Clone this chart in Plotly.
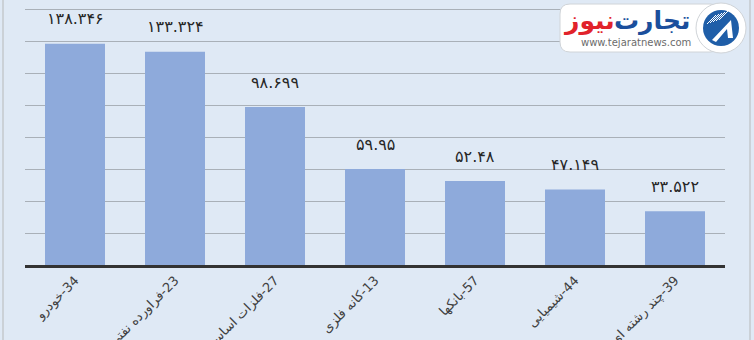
import plotly.graph_objects as go

categories = ["34-خودرو", "23-فراورده نفتی", "27-فلزات اساسی", "13-کانه فلزی",
              "57-بانکها", "44-شیمیایی", "39-چند رشته ای"]
values = [138.346, 133.324, 98.699, 59.95, 52.48, 47.149, 33.522]

FA_DIGITS = str.maketrans("0123456789", "۰۱۲۳۴۵۶۷۸۹")


def fa(v):
    return str(v).translate(FA_DIGITS)


def rtl(s):
    return "\u202b" + s + "\u202c"


W, H = 754, 340
ML, MR, MT, MB = 25, 29, 0, 75
PW, PH = W - ML - MR, H - MT - MB


def px(x):
    return (x - ML) / PW


def py(y):
    return (H - MB - y) / PH


BG = "#dfe9f5"
BAR = "#8eaadb"

fig = go.Figure()
fig.add_trace(go.Bar(
    x=[rtl(c) for c in categories], y=values,
    marker=dict(color=BAR, line=dict(width=0)),
    hoverinfo="skip",
))

annotations = []
for c, v in zip(categories, values):
    annotations.append(dict(
        x=rtl(c), y=v, xref="x", yref="y", text=fa(v), showarrow=False,
        yanchor="middle", yshift=25,
        font=dict(family="DejaVu Sans", size=16, color="#262626"),
    ))

# logo texts
annotations += [
    dict(x=px(652), y=py(21), xref="paper", yref="paper", text="تجارت",
         showarrow=False, xanchor="center", yanchor="middle",
         font=dict(family="DejaVu Sans", size=25, color="#1b4f9c", weight="bold")),
    dict(x=px(589), y=py(21), xref="paper", yref="paper", text="نیوز",
         showarrow=False, xanchor="center", yanchor="middle",
         font=dict(family="DejaVu Sans", size=25, color="#e1232b", weight="bold")),
    dict(x=px(636), y=py(43), xref="paper", yref="paper", text="www.tejaratnews.com",
         showarrow=False, xanchor="center", yanchor="middle",
         font=dict(family="DejaVu Sans", size=10, color="#6b6b6b")),
]


def rounded_rect(x0, y0, x1, y1, r):
    pts = [
        f"M {px(x0 + r)} {py(y0)}",
        f"L {px(x1 - r)} {py(y0)}",
        f"Q {px(x1)} {py(y0)} {px(x1)} {py(y0 + r)}",
        f"L {px(x1)} {py(y1 - r)}",
        f"Q {px(x1)} {py(y1)} {px(x1 - r)} {py(y1)}",
        f"L {px(x0 + r)} {py(y1)}",
        f"Q {px(x0)} {py(y1)} {px(x0)} {py(y1 - r)}",
        f"L {px(x0)} {py(y0 + r)}",
        f"Q {px(x0)} {py(y0)} {px(x0 + r)} {py(y0)}",
        "Z",
    ]
    return " ".join(pts)


shapes = [
    dict(type="line", xref="paper", yref="paper", x0=px(3), x1=px(3), y0=py(0), y1=py(H),
         line=dict(color="#c4c8cc", width=1.5)),
    dict(type="line", xref="paper", yref="paper", x0=px(750), x1=px(750), y0=py(0), y1=py(H),
         line=dict(color="#c4c8cc", width=1.5)),
    dict(type="path", xref="paper", yref="paper", path=rounded_rect(560, 4, 720, 52, 10),
         fillcolor="white", line=dict(color="#d0d4d8", width=1)),
    dict(type="circle", xref="paper", yref="paper", x0=px(696), x1=px(746), y0=py(3), y1=py(53),
         fillcolor="white", line=dict(color="#d0d4d8", width=1)),
    dict(type="circle", xref="paper", yref="paper", x0=px(703), x1=px(739), y0=py(10), y1=py(46),
         fillcolor="#1f5ea8", line=dict(width=0)),
    dict(type="path", xref="paper", yref="paper",
         path=f"M {px(712)} {py(40)} L {px(731)} {py(20)} L {px(733)} {py(38)} L {px(728)} {py(38)} "
              f"L {px(727)} {py(29)} L {px(716)} {py(42)} Z",
         fillcolor="white", line=dict(width=0)),
]
for i in range(5):
    shapes.append(dict(type="line", xref="paper", yref="paper",
                       x0=px(707 + i * 3), y0=py(24 - i * 1), x1=px(716 + i * 3), y1=py(15 - i * 1),
                       line=dict(color="white", width=1)))

fig.update_layout(
    width=W, height=H,
    margin=dict(l=ML, r=MR, t=MT, b=MB, autoexpand=False),
    paper_bgcolor=BG, plot_bgcolor=BG,
    bargap=0.4, showlegend=False,
    xaxis=dict(
        tickangle=-45, tickfont=dict(family="DejaVu Sans", size=13, color="#404040"),
        showline=True, linecolor="#333333", linewidth=2.5, showgrid=False,
        ticks="", automargin=False, fixedrange=True,
    ),
    yaxis=dict(
        range=[0, 265 / 1.6], dtick=20, showticklabels=False, showgrid=True,
        gridcolor="#a9b0b8", gridwidth=1, zeroline=False, showline=False,
        automargin=False, fixedrange=True,
    ),
    annotations=annotations, shapes=shapes,
)

fig.write_html("out.html")
